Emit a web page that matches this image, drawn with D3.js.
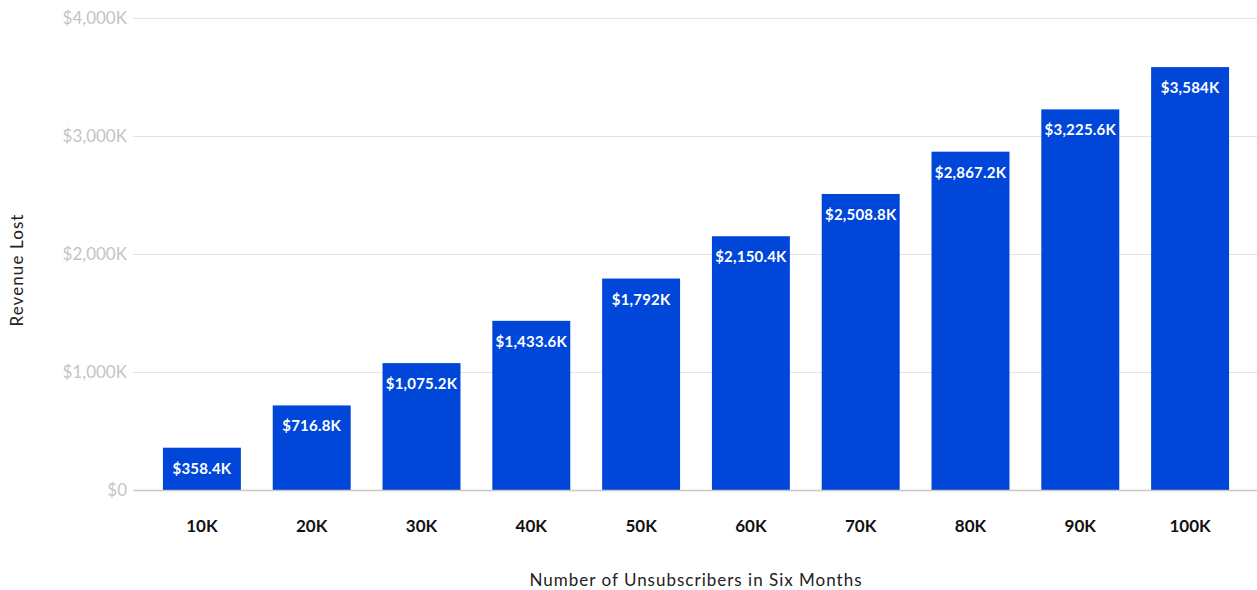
<!DOCTYPE html>
<html>
<head>
<meta charset="utf-8">
<script src="https://cdn.jsdelivr.net/npm/d3@7"></script>
<style>
  html, body { margin: 0; padding: 0; background: #fff; }
  svg { display: block; font-family: Lato, "Open Sans", sans-serif; }
</style>
</head>
<body>
<svg id="chart" width="1257" height="590"></svg>
<script>
// Revenue lost by number of unsubscribers (in thousands of dollars)
const categories = ["10K", "20K", "30K", "40K", "50K", "60K", "70K", "80K", "90K", "100K"];
const revenueLost = [358.4, 716.8, 1075.2, 1433.6, 1792, 2150.4, 2508.8, 2867.2, 3225.6, 3584];
const yTicks = [0, 1000, 2000, 3000, 4000];

const svg = d3.select("#chart");
const plot = { left: 133, right: 1257, top: 18, bottom: 490 };

const x = d3.scaleBand()
  .domain(categories)
  .range([147, 1245])
  .paddingInner(0.29)
  .paddingOuter(0.145);

const y = d3.scaleLinear()
  .domain([0, 4000])
  .range([plot.bottom, plot.top]);

const fmtTick = v => v === 0 ? "$0" : "$" + d3.format(",")(v) + "K";
const fmtVal = v => "$" + d3.format(",")(v) + "K";

// Horizontal grid lines
svg.append("g")
  .selectAll("line")
  .data(yTicks.filter(t => t > 0))
  .join("line")
  .attr("x1", plot.left).attr("x2", plot.right)
  .attr("y1", d => Math.round(y(d)) + 0.5).attr("y2", d => Math.round(y(d)) + 0.5)
  .attr("stroke", "#e3e3e3").attr("stroke-width", 1);

// Y tick labels
svg.append("g")
  .selectAll("text")
  .data(yTicks)
  .join("text")
  .attr("x", 127)
  .attr("y", d => y(d))
  .attr("dy", "0.35em")
  .attr("text-anchor", "end")
  .attr("fill", "#c4c4c4")
  .attr("font-size", 17)
  .text(fmtTick);

// Bars
svg.append("g")
  .selectAll("rect")
  .data(revenueLost)
  .join("rect")
  .attr("x", (d, i) => x(categories[i]))
  .attr("width", x.bandwidth())
  .attr("y", d => y(d))
  .attr("height", d => y(0) - y(d))
  .attr("fill", "#0046d9");

// Baseline
svg.append("line")
  .attr("x1", plot.left).attr("x2", plot.right)
  .attr("y1", plot.bottom + 0.5).attr("y2", plot.bottom + 0.5)
  .attr("stroke", "#c8c8c8").attr("stroke-width", 1.5);

// Value labels inside bar tops
svg.append("g")
  .selectAll("text")
  .data(revenueLost)
  .join("text")
  .attr("x", (d, i) => x(categories[i]) + x.bandwidth() / 2)
  .attr("y", d => y(d) + 26)
  .attr("text-anchor", "middle")
  .attr("fill", "#ffffff")
  .attr("font-size", 15)
  .attr("font-weight", 700)
  .attr("letter-spacing", 0.2)
  .text(fmtVal);

// X tick labels
svg.append("g")
  .selectAll("text")
  .data(categories)
  .join("text")
  .attr("x", d => x(d) + x.bandwidth() / 2)
  .attr("y", 532)
  .attr("text-anchor", "middle")
  .attr("fill", "#111")
  .attr("font-size", 17)
  .attr("font-weight", 700)
  .text(d => d);

// Axis titles
svg.append("text")
  .attr("x", 696).attr("y", 586)
  .attr("text-anchor", "middle")
  .attr("fill", "#222")
  .attr("font-size", 17)
  .attr("letter-spacing", 1)
  .text("Number of Unsubscribers in Six Months");

svg.append("text")
  .attr("transform", "translate(23,270) rotate(-90)")
  .attr("text-anchor", "middle")
  .attr("fill", "#222")
  .attr("font-size", 17)
  .attr("letter-spacing", 1.1)
  .text("Revenue Lost");
</script>
</body>
</html>
